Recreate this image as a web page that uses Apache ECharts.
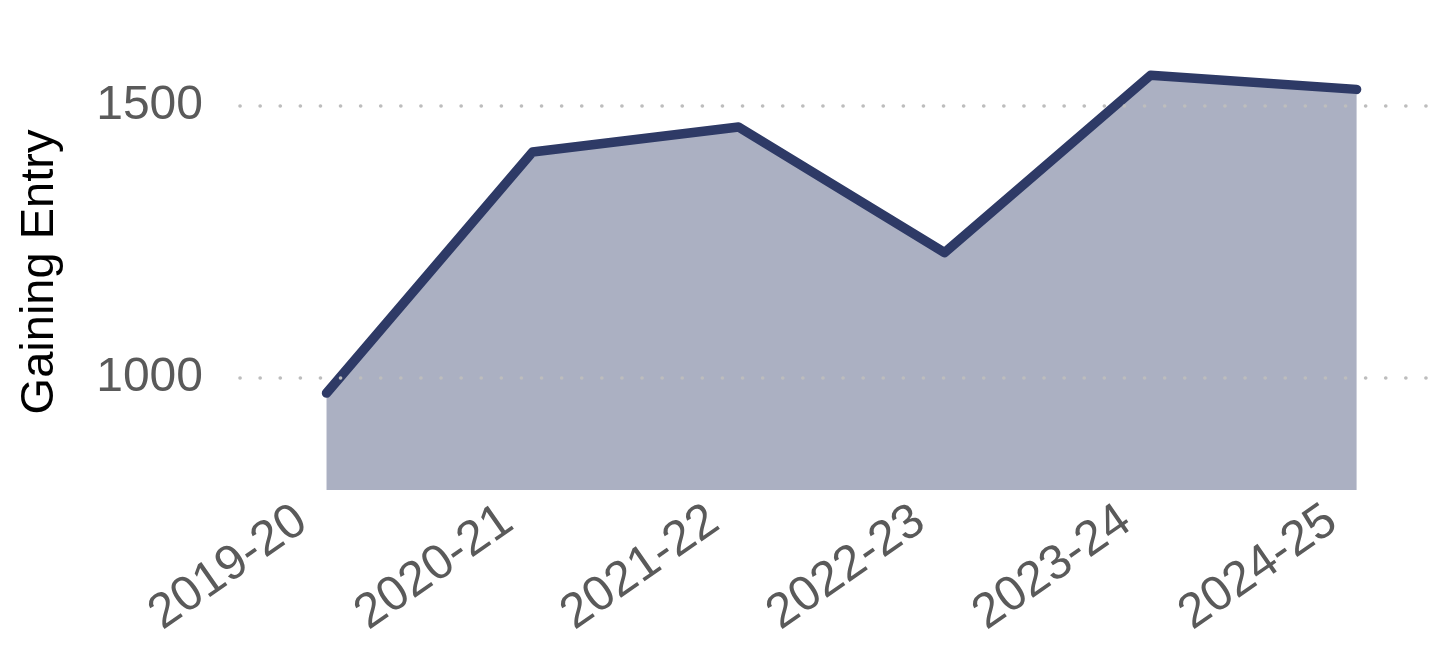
<!DOCTYPE html>
<html>
<head>
<meta charset="utf-8">
<title>Gaining Entry</title>
<script src="https://cdn.jsdelivr.net/npm/echarts@6/dist/echarts.min.js"></script>
<style>
  html, body { margin: 0; padding: 0; background: #ffffff; }
  #chart { width: 1452px; height: 654px; }
</style>
</head>
<body>
<div id="chart"></div>
<script>
// School years on the x axis
const years = ['2019-20', '2020-21', '2021-22', '2022-23', '2023-24', '2024-25'];
// Number of students gaining entry per year
const gainingEntry = [972, 1415, 1461, 1230, 1556, 1530];
// Values that get a tick label and a dotted guide line
const yTicks = [1000, 1500];

const lineColor = '#2e3a66';
const font = '"Liberation Sans", Arial, sans-serif';

const chart = echarts.init(document.getElementById('chart'), null, { renderer: 'canvas' });

chart.setOption({
  animation: false,
  backgroundColor: '#ffffff',
  grid: { left: 240, right: 13, top: 54, bottom: 164, containLabel: false },
  xAxis: {
    type: 'value',
    min: -0.42,
    max: 5.4,
    axisLine: { show: false },
    axisTick: { show: false, customValues: years.map((_, i) => i) },
    splitLine: { show: false },
    axisLabel: {
      customValues: years.map((_, i) => i),
      formatter: v => years[Math.round(v)],
      rotate: 35,
      margin: 9,
      padding: [0, 30, 0, 0],
      fontFamily: font,
      fontSize: 49,
      color: '#5a5a5a'
    }
  },
  yAxis: {
    type: 'value',
    min: 794,
    max: 1595,
    name: 'Gaining Entry',
    nameLocation: 'middle',
    nameGap: 176,
    nameRotate: 90,
    nameTextStyle: { fontFamily: font, fontSize: 47, color: '#000000' },
    axisLine: { show: false },
    axisTick: { show: false, customValues: yTicks },
    axisLabel: {
      customValues: yTicks,
      formatter: v => String(v),
      margin: 37,
      fontFamily: font,
      fontSize: 48,
      color: '#5a5a5a'
    },
    splitLine: { show: false }
  },
  series: [
    {
      // dotted horizontal guides behind the area
      type: 'line',
      data: [],
      silent: true,
      z: 1,
      markLine: {
        silent: true,
        symbol: 'none',
        label: { show: false },
        lineStyle: { color: '#bdbdbd', width: 3.6, type: [0.1, 20], cap: 'round' },
        data: yTicks.map(v => [{ coord: [-0.42, v] }, { coord: [5.4, v] }])
      }
    },
    {
      type: 'line',
      data: gainingEntry.map((v, i) => [i, v]),
      showSymbol: false,
      z: 2,
      lineStyle: { color: lineColor, width: 9.5, cap: 'round', join: 'round' },
      areaStyle: { color: lineColor, opacity: 0.4, origin: 'start' }
    }
  ]
});
</script>
</body>
</html>
